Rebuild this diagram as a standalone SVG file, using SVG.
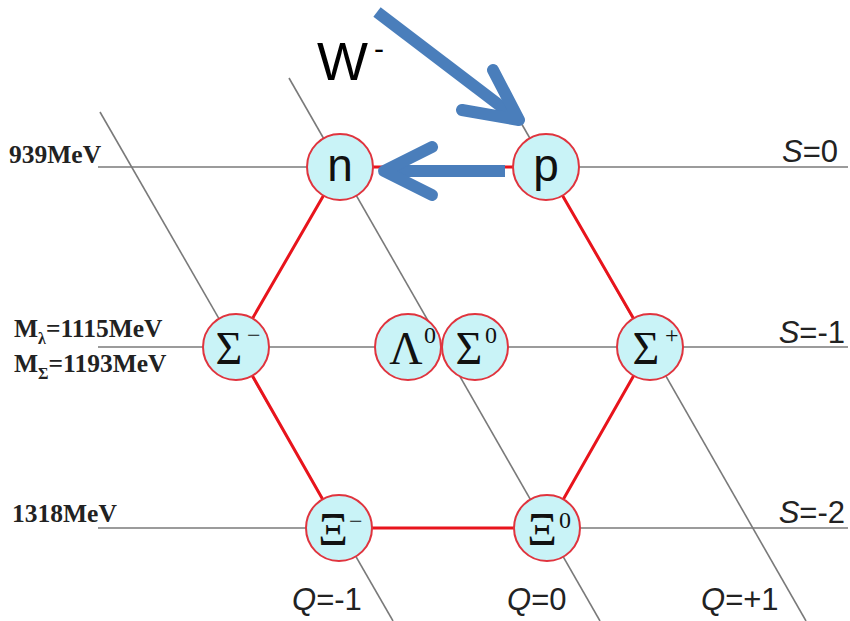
<svg xmlns="http://www.w3.org/2000/svg" width="850" height="621" viewBox="0 0 850 621">
<style>
.grid{stroke:#7a7a7a;stroke-width:1.6;fill:none}
.hex{stroke:#e8141c;stroke-width:3;fill:none}
.node{fill:#c9f3f7;stroke:#e0343e;stroke-width:2}
.lbl{font-family:"Liberation Serif","Times New Roman",serif;font-weight:bold;font-size:25.5px;fill:#222}
.ax{font-family:"Liberation Sans",Arial,sans-serif;font-size:31px;fill:#222}
.sans{font-family:"Liberation Sans",Arial,sans-serif;font-size:46px;fill:#111;text-anchor:middle}
.gr{font-family:"Liberation Serif","Times New Roman",serif;font-size:46px;fill:#111;text-anchor:middle}
.sup{font-family:"Liberation Serif","Times New Roman",serif;font-size:24px;fill:#111}
.arrow{stroke:#4a7ebb;stroke-width:12;fill:none}
</style>
<rect width="850" height="621" fill="#fff"/>
<g id="grid">
<line class="grid" x1="98" y1="167" x2="848" y2="167"/>
<line class="grid" x1="98" y1="347" x2="848" y2="347"/>
<line class="grid" x1="98" y1="528" x2="848" y2="528"/>
<line class="grid" x1="100" y1="112" x2="393" y2="621"/>
<line class="grid" x1="289" y1="78" x2="600" y2="621"/>
<line class="grid" x1="520" y1="121" x2="806" y2="621"/>
</g>
<g id="connectors">
<polyline class="hex" points="340,167 236,347 339,528 547,528 650,347 546,167 340,167"/>
</g>
<g id="labels">
<text class="lbl" x="9" y="163">939MeV</text>
<text class="lbl" x="14" y="337">M<tspan font-size="16" dy="7">λ</tspan><tspan dy="-7">=1115MeV</tspan></text>
<text class="lbl" x="14" y="372">M<tspan font-size="16" dy="7">Σ</tspan><tspan dy="-7">=1193MeV</tspan></text>
<text class="lbl" x="12" y="522">1318MeV</text>
<text class="ax" x="838" y="162" text-anchor="end"><tspan font-style="italic">S</tspan>=0</text>
<text class="ax" x="845" y="343" text-anchor="end"><tspan font-style="italic">S</tspan>=-1</text>
<text class="ax" x="845" y="523" text-anchor="end"><tspan font-style="italic">S</tspan>=-2</text>
<text class="ax" x="292" y="610"><tspan font-style="italic">Q</tspan>=-1</text>
<text class="ax" x="507" y="610"><tspan font-style="italic">Q</tspan>=0</text>
<text class="ax" x="701" y="610"><tspan font-style="italic">Q</tspan>=+1</text>
</g>
<g id="node-n"><circle class="node" cx="340" cy="167" r="33"/><text class="sans" x="340" y="181">n</text></g>
<g id="node-p"><circle class="node" cx="546" cy="167" r="33"/><text class="sans" x="546" y="181">p</text></g>
<g id="node-sigma-minus"><circle class="node" cx="236" cy="347" r="33"/><text class="gr" x="229" y="364">Σ</text><text class="sup" x="247" y="343" font-size="26">−</text></g>
<g id="node-lambda0"><circle class="node" cx="408" cy="347" r="33"/><text class="gr" x="406" y="364">Λ</text><text class="sup" x="424" y="343">0</text></g>
<g id="node-sigma0"><circle class="node" cx="475" cy="347" r="33"/><text class="gr" x="469" y="364">Σ</text><text class="sup" x="485" y="343">0</text></g>
<g id="node-sigma-plus"><circle class="node" cx="650" cy="347" r="33"/><text class="gr" x="646" y="364">Σ</text><text class="sup" x="665" y="343">+</text></g>
<g id="node-xi-minus"><circle class="node" cx="339" cy="528" r="33"/><text class="gr" x="333" y="545">Ξ</text><text class="sup" x="349" y="529" font-size="26">−</text></g>
<g id="node-xi0"><circle class="node" cx="547" cy="528" r="33"/><text class="gr" x="542" y="545">Ξ</text><text class="sup" x="559" y="528">0</text></g>
<g id="w-arrows">
<text x="317" y="80" font-family="Liberation Sans,Arial,sans-serif" font-size="54" fill="#000">W</text>
<text x="374" y="59" font-family="Liberation Sans,Arial,sans-serif" font-size="30" fill="#000">-</text>
<line class="arrow" x1="377" y1="12" x2="515" y2="117"/>
<polyline class="arrow" points="493,70 519,120 462,110" stroke-linecap="round" stroke-linejoin="round"/>
<line class="arrow" x1="505" y1="171" x2="388" y2="171"/>
<polyline class="arrow" points="432,147 384,171 432,195" stroke-linecap="round" stroke-linejoin="round"/>
</g>
</svg>
